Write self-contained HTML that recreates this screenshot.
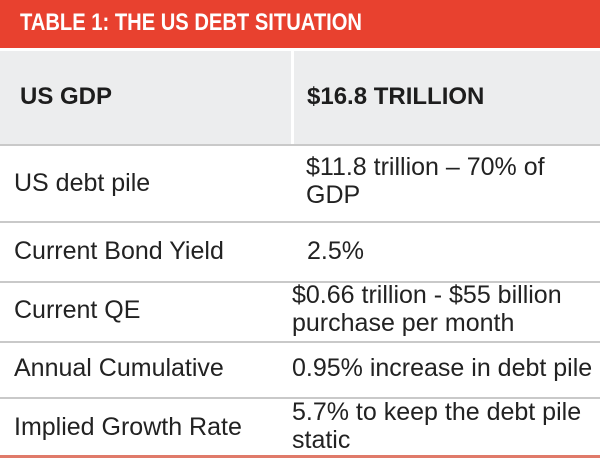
<!DOCTYPE html>
<html><head><meta charset="utf-8"><style>
html,body{margin:0;padding:0;background:#fff;}
#w{position:relative;width:600px;height:458px;overflow:hidden;font-family:"Liberation Sans",sans-serif;color:#222;}
.a{position:absolute;white-space:nowrap;}
.h{position:absolute;left:0;width:600px;height:2px;background:#c9c9c9;}
.t{font-size:25px;line-height:28px;}
</style></head><body><div id="w">
<div class="a" style="left:0;top:0;width:600px;height:48px;background:#e8412f;"></div>
<div class="a" style="left:20px;top:10px;font-size:24px;line-height:26px;font-weight:bold;color:#fff;transform:scaleX(0.84);transform-origin:0 0;">TABLE 1: THE US DEBT SITUATION</div>
<div class="a" style="left:0;top:51px;width:600px;height:94px;background:#ecedee;"></div>
<div class="a" style="left:291px;top:51px;width:3px;height:94px;background:#fff;"></div>
<div class="a" style="left:20px;top:82px;font-size:24px;line-height:29px;font-weight:bold;color:#1d1d1d;">US GDP</div>
<div class="a" style="left:307px;top:82px;font-size:24px;line-height:29px;font-weight:bold;color:#1d1d1d;">$16.8 TRILLION</div>
<div class="h" style="top:144px;"></div>
<div class="a t" style="left:14px;top:169px;">US debt pile</div>
<div class="a t" style="left:306px;top:153px;">$11.8 trillion – 70% of<br>GDP</div>
<div class="h" style="top:221px;"></div>
<div class="a t" style="left:14px;top:237px;">Current Bond Yield</div>
<div class="a t" style="left:307px;top:237px;">2.5%</div>
<div class="h" style="top:281px;"></div>
<div class="a t" style="left:14px;top:296px;">Current QE</div>
<div class="a t" style="left:292px;top:281px;">$0.66 trillion - $55 billion<br>purchase per month</div>
<div class="h" style="top:341px;"></div>
<div class="a t" style="left:14px;top:354px;">Annual Cumulative</div>
<div class="a t" style="left:292px;top:354px;">0.95% increase in debt pile</div>
<div class="h" style="top:397px;"></div>
<div class="a t" style="left:14px;top:413px;">Implied Growth Rate</div>
<div class="a t" style="left:292px;top:398px;">5.7% to keep the debt pile<br>static</div>
<div class="a" style="left:0;top:455px;width:600px;height:3px;background:#e07a6a;"></div>
</div></body></html>
